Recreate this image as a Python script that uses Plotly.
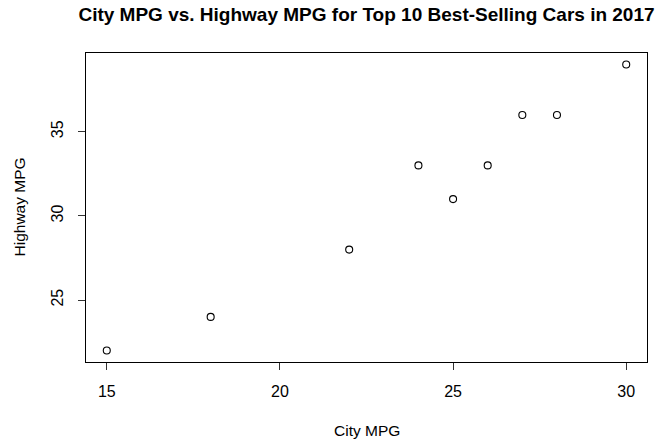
import plotly.graph_objects as go

# City and highway fuel economy of the best-selling cars in 2017
city_mpg = [15, 18, 22, 24, 25, 26, 27, 28, 30]
highway_mpg = [22, 24, 28, 33, 31, 33, 36, 36, 39]

x_ticks = [15, 20, 25, 30]
y_ticks = [25, 30, 35]

font_family = "Liberation Sans, Arial, sans-serif"

fig = go.Figure(
    go.Scatter(
        x=city_mpg,
        y=highway_mpg,
        mode="markers",
        marker=dict(symbol="circle-open", size=7, color="black", line=dict(width=1.1)),
        showlegend=False,
    )
)

axis_common = dict(
    showline=True,
    linecolor="black",
    linewidth=1,
    mirror=True,
    ticks="outside",
    ticklen=7,
    tickwidth=1,
    tickcolor="#333333",
    showgrid=False,
    zeroline=False,
    tickfont=dict(family=font_family, size=16, color="black"),
)

fig.update_xaxes(range=[14.4, 30.6], tickvals=x_ticks, ticklabelstandoff=8, **axis_common)
fig.update_yaxes(range=[21.32, 39.68], tickvals=y_ticks, tickangle=-90,
                 ticklabelstandoff=9, **axis_common)

fig.update_layout(
    width=661,
    height=442,
    margin=dict(l=86, r=14, t=53, b=80),
    plot_bgcolor="white",
    paper_bgcolor="white",
    font=dict(family=font_family, color="black"),
    title=dict(
        text="<b>City MPG vs. Highway MPG for Top 10 Best-Selling Cars in 2017</b>",
        x=0.5,
        xref="paper",
        xanchor="center",
        y=1 - 14 / 442,
        yref="container",
        yanchor="middle",
        font=dict(family=font_family, size=19, color="black"),
    ),
    annotations=[
        dict(
            text="City MPG",
            xref="paper",
            yref="paper",
            x=0.5,
            y=(362 - 431) / 309,
            xanchor="center",
            yanchor="middle",
            showarrow=False,
            font=dict(family=font_family, size=15.5, color="black"),
        ),
        dict(
            text="Highway MPG",
            xref="paper",
            yref="paper",
            x=(19 - 86) / 561,
            y=(362 - 207.5) / 309,
            textangle=-90,
            xanchor="center",
            yanchor="middle",
            showarrow=False,
            font=dict(family=font_family, size=15.5, color="black"),
        ),
    ],
)

fig.write_html("out.html")
